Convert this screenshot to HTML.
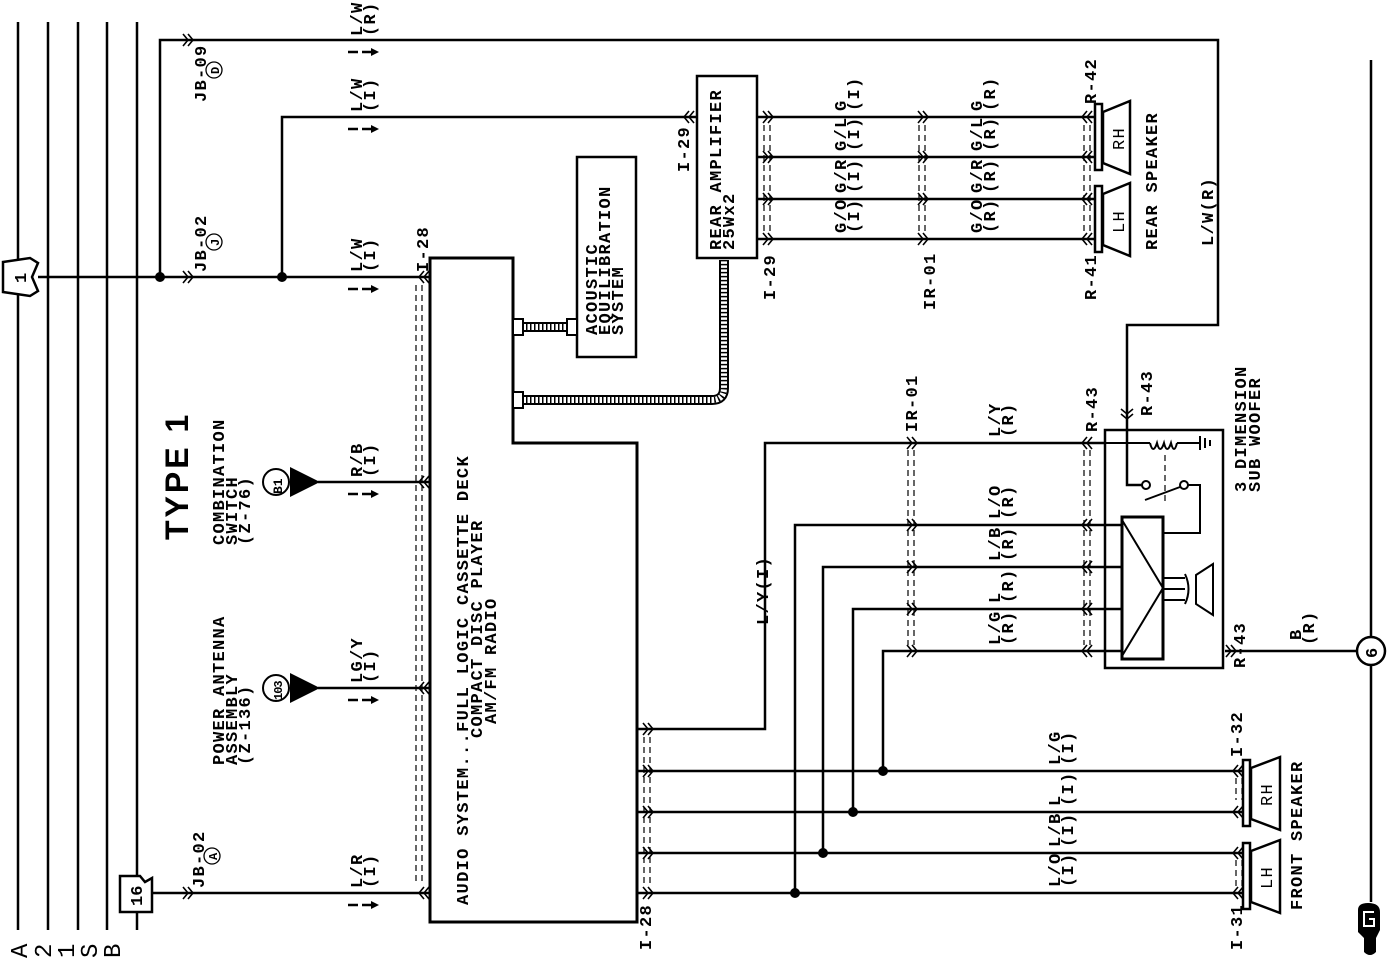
<!DOCTYPE html>
<html><head><meta charset="utf-8"><style>
html,body{margin:0;padding:0;background:#fff}
svg{display:block}
.t{font-family:"Liberation Mono",monospace;font-weight:bold;font-size:17px;letter-spacing:1.3px;fill:#000}
.w{fill:none;stroke:#000;stroke-width:2.5}
.d{fill:none;stroke:#000;stroke-width:1.2;stroke-dasharray:6,4}
</style></head><body>
<svg width="1388" height="960" viewBox="0 0 1388 960" xmlns="http://www.w3.org/2000/svg">
<defs>
<path id="cr" d="M-9,-6 L-4,0 L-9,6 M-4,-6 L1,0 L-4,6" fill="none" stroke="#000" stroke-width="1.6"/>
<g id="ar"><path d="M0,0 H10 M14,0 H26" stroke="#000" stroke-width="2.5"/><polygon points="23,-4 31,0 23,4" fill="#000"/></g>
</defs>

<g class="w">
<line x1="18" y1="22" x2="18" y2="930"/>
<line x1="48" y1="22" x2="48" y2="930"/>
<line x1="78" y1="22" x2="78" y2="930"/>
<line x1="107" y1="22" x2="107" y2="930"/>
<line x1="137" y1="22" x2="137" y2="876"/>
<line x1="137" y1="912" x2="137" y2="930"/>
</g>
<g class="t" style="font-size:24px;font-weight:normal;letter-spacing:0">
<text transform="translate(27,958) rotate(-90)">A</text>
<text transform="translate(51,958) rotate(-90)">2</text>
<text transform="translate(74,958) rotate(-90)">1</text>
<text transform="translate(97,958) rotate(-90)">S</text>
<text transform="translate(120,958) rotate(-90)">B</text>
</g>

<polygon points="3,262 30,258 38,263 32,277 38,291 30,296 3,292" fill="#fff" stroke="#000" stroke-width="2.5"/>
<text class="t" transform="translate(26,283) rotate(-90)">1</text>
<path d="M120,876 H140 L145,882 L152,878 V912 H120 Z" fill="#fff" stroke="#000" stroke-width="2.5"/>
<text class="t" transform="translate(142,906) rotate(-90)" style="letter-spacing:0">16</text>

<g class="w">
<path d="M38,277 H430"/>
<path d="M160,277 V40 H1218 V325 H1127 V485 H1142"/>
<path d="M282,277 V117 H697"/>
<path d="M152,893 H430"/>
<path d="M318,482 H430"/>
<path d="M318,688 H430"/>
<path d="M430,258 H513 V443 H637 V922 H430 Z" stroke-width="3"/>
<rect x="577" y="157" width="59" height="200"/>
<rect x="697" y="76" width="60" height="182"/>
<path d="M757,117 H1097 M757,157 H1097 M757,199 H1097 M757,239 H1097"/>
<path d="M637,729 H765 V443 H1105"/>
<path d="M637,771 H1243 M883,771 V651 H1122"/>
<path d="M637,812 H1243 M853,812 V609 H1122"/>
<path d="M637,853 H1243 M823,853 V567 H1122"/>
<path d="M637,893 H1243 M795,893 V525 H1122"/>
<path d="M1225,651 H1356"/>
<path d="M1371,60 V637 M1371,665 V902"/>
</g>
<g fill="#000">
<circle cx="160" cy="277" r="5"/><circle cx="282" cy="277" r="5"/>
<circle cx="883" cy="771" r="5"/><circle cx="853" cy="812" r="5"/>
<circle cx="823" cy="853" r="5"/><circle cx="795" cy="893" r="5"/>
</g>
<circle cx="1371" cy="651" r="14" fill="#fff" stroke="#000" stroke-width="2.5"/>
<text class="t" transform="translate(1377,658) rotate(-90)">6</text>
<path d="M1358,910 Q1358,903 1368,903 Q1380,903 1380,912 V930 L1376,938 V952 Q1370,958 1364,952 V938 L1358,932 Z" fill="#000"/>
<path d="M1374,912 H1364 V926 H1374 V919 H1369" fill="none" stroke="#fff" stroke-width="2"/>

<g>
<path d="M522,327 H570" stroke="#000" stroke-width="10" fill="none"/>
<path d="M522,327 H570" stroke="#fff" stroke-width="6" fill="none"/>
<path d="M522,327 H570" stroke="#000" stroke-width="6" fill="none" stroke-dasharray="1.5,2.5"/>
<path d="M522,400 H712 Q724,400 724,388 V260" stroke="#000" stroke-width="10" fill="none"/>
<path d="M522,400 H712 Q724,400 724,388 V260" stroke="#fff" stroke-width="6" fill="none"/>
<path d="M522,400 H712 Q724,400 724,388 V260" stroke="#000" stroke-width="6" fill="none" stroke-dasharray="1.5,2.5"/>
<rect x="513" y="319" width="10" height="16" fill="#fff" stroke="#000" stroke-width="2"/>
<rect x="567" y="319" width="10" height="16" fill="#fff" stroke="#000" stroke-width="2"/>
<rect x="513" y="392" width="10" height="16" fill="#fff" stroke="#000" stroke-width="2"/>
</g>

<g class="d">
<path d="M416,285 V885 M422,285 V885"/>
<path d="M644,737 V885 M650,737 V885"/>
<path d="M764,125 V232 M770,125 V232"/>
<path d="M919,125 V232 M925,125 V232"/>
<path d="M1084,125 V232 M1090,125 V232"/>
<path d="M908,450 V645 M914,450 V645"/>
<path d="M1084,450 V645 M1090,450 V645"/>
<path d="M1236,778 V800 M1242,778 V800 M1236,860 V886 M1242,860 V886"/>
<path d="M1165,455 V505"/>
</g>

<g>
<use href="#cr" transform="translate(192,40)"/>
<use href="#cr" transform="translate(192,277)"/>
<use href="#cr" transform="translate(192,893)"/>
<use href="#cr" transform="translate(420,277) scale(-1,1)"/>
<use href="#cr" transform="translate(420,482) scale(-1,1)"/>
<use href="#cr" transform="translate(420,688) scale(-1,1)"/>
<use href="#cr" transform="translate(420,893) scale(-1,1)"/>
<use href="#cr" transform="translate(685,117) scale(-1,1)"/>
<use href="#cr" transform="translate(772,117)"/><use href="#cr" transform="translate(772,157)"/>
<use href="#cr" transform="translate(772,199)"/><use href="#cr" transform="translate(772,239)"/>
<use href="#cr" transform="translate(927,117)"/><use href="#cr" transform="translate(927,157)"/>
<use href="#cr" transform="translate(927,199)"/><use href="#cr" transform="translate(927,239)"/>
<use href="#cr" transform="translate(1083,117) scale(-1,1)"/><use href="#cr" transform="translate(1083,157) scale(-1,1)"/>
<use href="#cr" transform="translate(1083,199) scale(-1,1)"/><use href="#cr" transform="translate(1083,239) scale(-1,1)"/>
<use href="#cr" transform="translate(652,729)"/><use href="#cr" transform="translate(652,771)"/>
<use href="#cr" transform="translate(652,812)"/><use href="#cr" transform="translate(652,853)"/>
<use href="#cr" transform="translate(652,893)"/>
<use href="#cr" transform="translate(916,443)"/><use href="#cr" transform="translate(916,525)"/>
<use href="#cr" transform="translate(916,567)"/><use href="#cr" transform="translate(916,609)"/>
<use href="#cr" transform="translate(916,651)"/>
<use href="#cr" transform="translate(1083,443) scale(-1,1)"/><use href="#cr" transform="translate(1083,525) scale(-1,1)"/>
<use href="#cr" transform="translate(1083,567) scale(-1,1)"/><use href="#cr" transform="translate(1083,609) scale(-1,1)"/>
<use href="#cr" transform="translate(1083,651) scale(-1,1)"/>
<use href="#cr" transform="translate(1235,651)"/>
<use href="#cr" transform="translate(1127,418) rotate(90)"/>
<use href="#cr" transform="translate(1234,771) scale(-1,1)"/><use href="#cr" transform="translate(1234,812) scale(-1,1)"/>
<use href="#cr" transform="translate(1234,853) scale(-1,1)"/><use href="#cr" transform="translate(1234,893) scale(-1,1)"/>
</g>

<use href="#ar" transform="translate(348,52)"/>
<use href="#ar" transform="translate(348,129)"/>
<use href="#ar" transform="translate(348,289)"/>
<use href="#ar" transform="translate(348,494)"/>
<use href="#ar" transform="translate(348,700)"/>
<use href="#ar" transform="translate(348,905)"/>

<polygon points="290,467 320,482 290,497" fill="#000"/>
<polygon points="290,673 320,688 290,703" fill="#000"/>
<circle cx="276" cy="482" r="13" fill="#fff" stroke="#000" stroke-width="2"/>
<circle cx="276" cy="688" r="13" fill="#fff" stroke="#000" stroke-width="2"/>
<text class="t" transform="translate(282,494) rotate(-90)" style="font-size:13px;letter-spacing:0">B1</text>
<text class="t" transform="translate(282,700) rotate(-90)" style="font-size:12px;letter-spacing:-1px">103</text>
<circle cx="214" cy="70" r="8" fill="none" stroke="#000" stroke-width="1.3"/>
<circle cx="214" cy="242" r="8" fill="none" stroke="#000" stroke-width="1.3"/>
<circle cx="212" cy="856" r="8" fill="none" stroke="#000" stroke-width="1.3"/>
<g class="t" style="font-size:12px;letter-spacing:0">
<text transform="translate(219,74) rotate(-90)">D</text>
<text transform="translate(219,246) rotate(-90)">J</text>
<text transform="translate(217,860) rotate(-90)">A</text>
</g>

<g fill="#fff" stroke="#000" stroke-width="2.5">
<rect x="1095" y="104" width="7" height="66"/>
<polygon points="1103,112 1130,101 1130,174 1103,163"/>
<rect x="1095" y="186" width="7" height="66"/>
<polygon points="1103,194 1130,183 1130,256 1103,245"/>
<rect x="1243" y="760" width="7" height="66"/>
<polygon points="1251,768 1280,757 1280,830 1251,819"/>
<rect x="1243" y="843" width="7" height="66"/>
<polygon points="1251,851 1280,840 1280,913 1251,902"/>
</g>

<g class="w">
<rect x="1105" y="430" width="118" height="238"/>
<rect x="1122" y="517" width="41" height="142" stroke-width="3"/>
<path d="M1122,520 L1163,588 L1122,656" stroke-width="2"/>
<path d="M1105,443 H1150 M1177,443 H1200" stroke-width="2"/>
<path d="M1150,443 q3,12 7,0 q3,12 7,0 q3,12 7,0 q3,12 6,0" stroke-width="2"/>
<path d="M1200,436 V450 M1205,438 V448 M1210,440 V446" stroke-width="2"/>
<path d="M1187,485 H1200 V533 H1163" stroke-width="2"/>
<path d="M1145,500 L1180,487" stroke-width="2"/>
<path d="M1163,578 H1185 M1163,589 H1185 M1163,600 H1185 M1185,574 Q1192,589 1185,604" stroke-width="2"/>
<polygon points="1196,575 1213,564 1213,615 1196,604" stroke-width="2"/>
</g>
<circle cx="1146" cy="485" r="4" fill="#fff" stroke="#000" stroke-width="2"/>
<circle cx="1184" cy="485" r="4" fill="#fff" stroke="#000" stroke-width="2"/>

<g class="t">
<text transform="translate(188,540) rotate(-90)" style="font-size:32px;letter-spacing:3px;font-family:'Liberation Sans',sans-serif">TYPE 1</text>
<text transform="translate(224,545) rotate(-90)">COMBINATION</text>
<text transform="translate(237,545) rotate(-90)">SWITCH</text>
<text transform="translate(250,545) rotate(-90)">(Z-76)</text>
<text transform="translate(224,765) rotate(-90)">POWER ANTENNA</text>
<text transform="translate(237,765) rotate(-90)">ASSEMBLY</text>
<text transform="translate(250,765) rotate(-90)">(Z-136)</text>

<text transform="translate(206,102) rotate(-90)">JB-09</text>
<text transform="translate(206,272) rotate(-90)">JB-02</text>
<text transform="translate(204,888) rotate(-90)">JB-02</text>

<text transform="translate(362,36) rotate(-90)">L/W</text><text transform="translate(375,36) rotate(-90)">(R)</text>
<text transform="translate(362,112) rotate(-90)">L/W</text><text transform="translate(375,112) rotate(-90)">(I)</text>
<text transform="translate(362,272) rotate(-90)">L/W</text><text transform="translate(375,272) rotate(-90)">(I)</text>
<text transform="translate(362,477) rotate(-90)">R/B</text><text transform="translate(375,477) rotate(-90)">(I)</text>
<text transform="translate(362,683) rotate(-90)">LG/Y</text><text transform="translate(375,683) rotate(-90)">(I)</text>
<text transform="translate(362,888) rotate(-90)">L/R</text><text transform="translate(375,888) rotate(-90)">(I)</text>
<text transform="translate(428,272) rotate(-90)">I-28</text>
<text transform="translate(651,950) rotate(-90)">I-28</text>

<text transform="translate(468,905) rotate(-90)" textLength="450" lengthAdjust="spacingAndGlyphs">AUDIO SYSTEM...FULL LOGIC CASSETTE DECK</text>
<text transform="translate(482,738) rotate(-90)">COMPACT DISC PLAYER</text>
<text transform="translate(496,724) rotate(-90)">AM/FM RADIO</text>

<text transform="translate(597,335) rotate(-90)">ACOUSTIC</text>
<text transform="translate(610,335) rotate(-90)">EQUILIBRATION</text>
<text transform="translate(623,335) rotate(-90)">SYSTEM</text>

<text transform="translate(721,250) rotate(-90)">REAR AMPLIFIER</text>
<text transform="translate(734,250) rotate(-90)">25Wx2</text>
<text transform="translate(689,172) rotate(-90)">I-29</text>
<text transform="translate(775,300) rotate(-90)">I-29</text>
<text transform="translate(935,310) rotate(-90)">IR-01</text>
<text transform="translate(1096,300) rotate(-90)">R-41</text>
<text transform="translate(1096,104) rotate(-90)">R-42</text>

<text transform="translate(846,111) rotate(-90)">G</text><text transform="translate(859,111) rotate(-90)">(I)</text>
<text transform="translate(846,151) rotate(-90)">G/L</text><text transform="translate(859,151) rotate(-90)">(I)</text>
<text transform="translate(846,193) rotate(-90)">G/R</text><text transform="translate(859,193) rotate(-90)">(I)</text>
<text transform="translate(846,233) rotate(-90)">G/O</text><text transform="translate(859,233) rotate(-90)">(I)</text>
<text transform="translate(982,111) rotate(-90)">G</text><text transform="translate(995,111) rotate(-90)">(R)</text>
<text transform="translate(982,151) rotate(-90)">G/L</text><text transform="translate(995,151) rotate(-90)">(R)</text>
<text transform="translate(982,193) rotate(-90)">G/R</text><text transform="translate(995,193) rotate(-90)">(R)</text>
<text transform="translate(982,233) rotate(-90)">G/O</text><text transform="translate(995,233) rotate(-90)">(R)</text>

<text transform="translate(1124,150) rotate(-90)" style="font-weight:normal">RH</text>
<text transform="translate(1124,233) rotate(-90)" style="font-weight:normal">LH</text>
<text transform="translate(1157,250) rotate(-90)">REAR SPEAKER</text>
<text transform="translate(1213,246) rotate(-90)">L/W(R)</text>

<text transform="translate(917,432) rotate(-90)">IR-01</text>
<text transform="translate(1097,432) rotate(-90)">R-43</text>
<text transform="translate(1152,416) rotate(-90)">R-43</text>
<text transform="translate(1245,668) rotate(-90)">R-43</text>
<text transform="translate(1246,492) rotate(-90)">3 DIMENSION</text>
<text transform="translate(1260,492) rotate(-90)">SUB WOOFER</text>
<text transform="translate(1301,640) rotate(-90)">B</text><text transform="translate(1314,645) rotate(-90)">(R)</text>

<text transform="translate(1000,437) rotate(-90)">L/Y</text><text transform="translate(1013,437) rotate(-90)">(R)</text>
<text transform="translate(1000,519) rotate(-90)">L/O</text><text transform="translate(1013,519) rotate(-90)">(R)</text>
<text transform="translate(1000,561) rotate(-90)">L/B</text><text transform="translate(1013,561) rotate(-90)">(R)</text>
<text transform="translate(1000,603) rotate(-90)">L</text><text transform="translate(1013,603) rotate(-90)">(R)</text>
<text transform="translate(1000,645) rotate(-90)">L/G</text><text transform="translate(1013,645) rotate(-90)">(R)</text>
<text transform="translate(768,625) rotate(-90)">L/Y(I)</text>

<text transform="translate(1060,765) rotate(-90)">L/G</text><text transform="translate(1073,765) rotate(-90)">(I)</text>
<text transform="translate(1060,806) rotate(-90)">L</text><text transform="translate(1073,806) rotate(-90)">(I)</text>
<text transform="translate(1060,847) rotate(-90)">L/B</text><text transform="translate(1073,847) rotate(-90)">(I)</text>
<text transform="translate(1060,887) rotate(-90)">L/O</text><text transform="translate(1073,887) rotate(-90)">(I)</text>
<text transform="translate(1242,757) rotate(-90)">I-32</text>
<text transform="translate(1242,950) rotate(-90)">I-31</text>
<text transform="translate(1272,806) rotate(-90)" style="font-weight:normal">RH</text>
<text transform="translate(1272,889) rotate(-90)" style="font-weight:normal">LH</text>
<text transform="translate(1302,910) rotate(-90)">FRONT SPEAKER</text>
</g>
</svg>
</body></html>
